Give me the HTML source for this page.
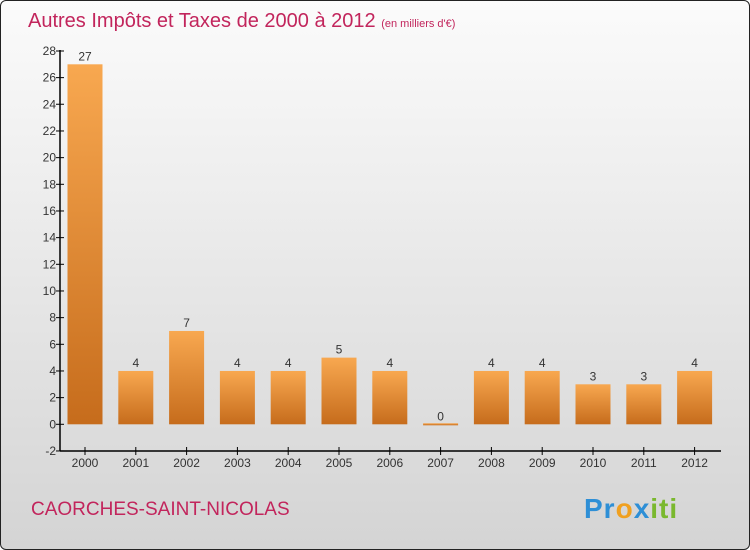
<!DOCTYPE html>
<html><head><meta charset="utf-8"><style>
body{margin:0;width:750px;height:550px;overflow:hidden;font-family:"Liberation Sans",sans-serif}
#c{position:absolute;left:0;top:0;width:748px;height:548px;border:1px solid #222;border-radius:6px;background:linear-gradient(#fbfbfb,#d4d4d4);overflow:hidden}
</style></head><body>
<div id="c">
<svg width="748" height="548">
<defs><linearGradient id="g" x1="0" y1="0" x2="0" y2="1"><stop offset="0" stop-color="#f8a850"/><stop offset="1" stop-color="#c66c1c"/></linearGradient></defs>
<text x="27" y="26" font-size="20" fill="#c2255c">Autres Impôts et Taxes de 2000 à 2012 <tspan font-size="11">(en milliers d'€)</tspan></text>
<g id="plot"></g>
<text x="30" y="514" font-size="19" fill="#c2255c">CAORCHES-SAINT-NICOLAS</text>
<text x="583" y="517" font-size="28" font-weight="bold" letter-spacing="1"><tspan fill="#2e8fd6">Pr</tspan><tspan fill="#f0a020">o</tspan><tspan fill="#2e8fd6">x</tspan><tspan fill="#7ab82e">iti</tspan></text>
</svg></div>
<script>
const categories=["2000","2001","2002","2003","2004","2005","2006","2007","2008","2009","2010","2011","2012"];
const values=[27,4,7,4,4,5,4,0,4,4,3,3,4];
const yTicks=[-2,0,2,4,6,8,10,12,14,16,18,20,22,24,26,28];
const ns="http://www.w3.org/2000/svg",p=document.getElementById('plot');
const y=v=>423.3-(v)*13.333, x=i=>84+i*50.8;
function mk(t,a){const e=document.createElementNS(ns,t);for(const k in a)e.setAttribute(k,a[k]);p.appendChild(e);return e;}
let ax=mk('line',{x1:59,y1:49,x2:59,y2:450,stroke:'#000','stroke-width':1.5});

let bx=mk('line',{x1:59,y1:450,x2:720,y2:450,stroke:'#000','stroke-width':1.5});

yTicks.forEach(v=>{mk('line',{x1:55,x2:63,y1:y(v),y2:y(v),stroke:'#000'});
const t=mk('text',{x:55,y:y(v)+4,'text-anchor':'end','font-size':12,fill:'#333'});t.textContent=v;
});
categories.forEach((c,i)=>{const cx=x(i),v=values[i];
mk('line',{x1:cx,x2:cx,y1:446,y2:454,stroke:'#000'});
const t=mk('text',{x:cx,y:466,'text-anchor':'middle','font-size':12,fill:'#333'});t.textContent=c;

const h=Math.max(2,y(0)-y(v));
const r=mk('rect',{x:cx-17.5,y:y(0)-h+(v==0?1:0),width:35,height:h,fill:'url(#g)'});

const l=mk('text',{x:cx,y:y(v)-4,'text-anchor':'middle','font-size':12,fill:'#333'});l.textContent=v;
});
</script></body></html>
